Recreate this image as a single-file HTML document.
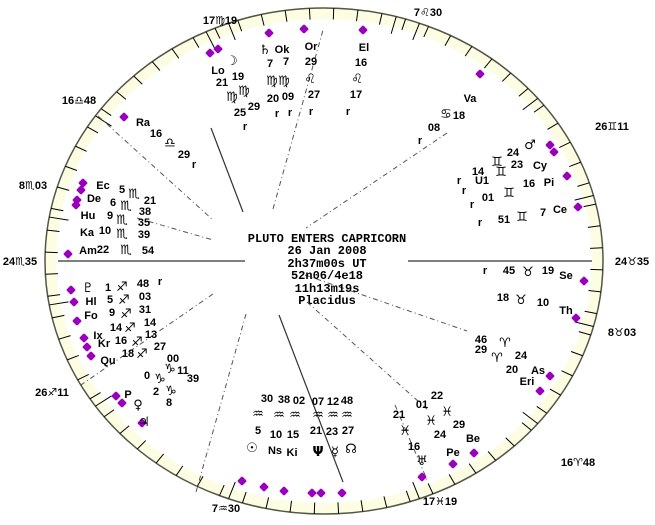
<!DOCTYPE html>
<html><head><meta charset="utf-8"><style>
html,body{margin:0;padding:0;background:#fff;width:655px;height:525px;overflow:hidden}
svg text{font-family:"Liberation Sans","DejaVu Sans",sans-serif;font-size:11px;font-weight:bold;fill:#000;text-anchor:middle}
svg text.c{font-family:"Liberation Mono","DejaVu Sans Mono",monospace;font-size:12px}
svg text.g{font-family:"DejaVu Sans",sans-serif;font-size:13px}
</style></head><body>
<svg id="s" width="655" height="525" viewBox="0 0 655 525" xmlns="http://www.w3.org/2000/svg">
<ellipse cx="324" cy="261" rx="279" ry="253" fill="#fdfde4" stroke="#555544" stroke-width="1.5"/>
<ellipse cx="324" cy="261" rx="268" ry="242" fill="#fff" stroke="none"/>
<g id="ticks" stroke="#000" stroke-width="1"></g>
<g stroke="#333" stroke-width="1.2" fill="none">
<line x1="58" y1="261" x2="245" y2="261"/><line x1="408" y1="261" x2="592" y2="261"/>
<line x1="211" y1="128" x2="243" y2="212"/>
<line x1="279" y1="315" x2="343" y2="482"/>
</g>
<g stroke="#555" stroke-width="1" stroke-dasharray="5,3,1,3" fill="none">
<line x1="273" y1="209" x2="323" y2="30"/>
<line x1="98" y1="116" x2="213" y2="220"/>
<line x1="137" y1="218" x2="213" y2="240"/>
<line x1="447" y1="133" x2="306" y2="228"/>
<line x1="213" y1="294" x2="78" y2="387"/>
<line x1="246" y1="314" x2="196" y2="492"/>
<line x1="305" y1="275" x2="467" y2="331"/>
<line x1="307" y1="302" x2="428" y2="410"/>
<line x1="395" y1="405" x2="428" y2="482"/>
</g>
<g id="dia" fill="#9900bb"></g>
<g id="tx">
<text class="c" x="327" y="242">PLUTO ENTERS CAPRICORN</text>
<text class="c" x="327" y="254">26 Jan 2008</text>
<text class="c" x="327" y="267">2h37m00s UT</text>
<text class="c" x="327" y="279">52n06/4e18</text>
<text class="c" x="327" y="292">11h13m19s</text>
<text class="c" x="327" y="304">Placidus</text>

<text x="220" y="24">17♍19</text><text x="428" y="16">7♌30</text>
<text x="79" y="104">16♎48</text><text x="612" y="130">26♊11</text>
<text x="33" y="189">8♏03</text><text x="20" y="265">24♏35</text>
<text x="632" y="265">24♉35</text><text x="622" y="336">8♉03</text>
<text x="52" y="396">26♐11</text><text x="226" y="512">7♒30</text>
<text x="440" y="505">17♓19</text><text x="578" y="466">16♈48</text>

<text x="265" y="54">♄</text><text x="282" y="53">Ok</text><text x="311" y="50">Or</text><text x="364" y="51">El</text>
<text x="218" y="74">Lo</text><text x="232" y="65">☽</text>
<text x="270" y="67">7</text><text x="286" y="65">7</text><text x="311" y="65">29</text><text x="361" y="66">16</text>
<text x="222" y="86">21</text><text x="238" y="80">19</text>
<text x="272" y="85">♍</text><text x="284" y="85">♍</text><text x="310" y="83">♌</text><text x="357" y="83">♌</text>
<text x="232" y="101">♍</text><text x="244" y="95">♍</text>
<text x="273" y="102">20</text><text x="288" y="100">09</text><text x="314" y="98">27</text><text x="356" y="98">17</text>
<text x="240" y="116">25</text><text x="254" y="110">29</text>
<text x="277" y="117">r</text><text x="290" y="116">r</text><text x="311" y="115">r</text><text x="348" y="115">r</text>
<text x="245" y="130">r</text>
<text x="470" y="102">Va</text><text x="459" y="119">18</text><text x="446" y="118">♋</text><text x="434" y="131">08</text><text x="420" y="144">r</text>
<text x="143" y="126">Ra</text><text x="156" y="137">16</text><text x="170" y="147">♎</text><text x="184" y="158">29</text><text x="194" y="168">r</text>
<text x="513" y="156">24</text><text x="530" y="149">♂</text><text x="497" y="166">♊</text><text x="517" y="168">23</text><text x="540" y="169">Cy</text>
<text x="478" y="175">14</text><text x="501" y="176">♊</text><text x="482" y="184">U1</text><text x="529" y="187">16</text><text x="549" y="186">Pi</text>
<text x="459" y="184">r</text><text x="464" y="194">r</text><text x="488" y="201">01</text><text x="509" y="197">♊</text><text x="472" y="208">r</text>
<text x="504" y="223">51</text><text x="522" y="221">♊</text><text x="543" y="216">7</text><text x="560" y="213">Ce</text><text x="480" y="226">r</text>

<text x="103" y="189">Ec</text><text x="122" y="193">5</text><text x="134" y="198">♏</text><text x="150" y="204">21</text>
<text x="94" y="202">De</text><text x="113" y="206">6</text><text x="126" y="210">♏</text><text x="145" y="215">38</text>
<text x="88" y="219">Hu</text><text x="110" y="219">9</text><text x="122" y="224">♏</text><text x="144" y="226">35</text>
<text x="87" y="236">Ka</text><text x="105" y="234">10</text><text x="122" y="238">♏</text><text x="144" y="238">39</text>
<text x="88" y="254">Am</text><text x="103" y="253">22</text><text x="126" y="254">♏</text><text x="148" y="254">54</text>

<text x="88" y="292">♇</text><text x="108" y="291">1</text><text x="122" y="291">♐</text><text x="143" y="287">48</text><text x="160" y="285">r</text>
<text x="91" y="305">Hl</text><text x="110" y="303">5</text><text x="124" y="304">♐</text><text x="145" y="300">03</text>
<text x="91" y="319">Fo</text><text x="112" y="316">9</text><text x="126" y="318">♐</text><text x="145" y="313">31</text>
<text x="98" y="339">Ix</text><text x="116" y="331">14</text><text x="130" y="332">♐</text><text x="150" y="326">14</text>
<text x="104" y="347">Kr</text><text x="121" y="344">16</text><text x="137" y="346">♐</text><text x="151" y="338">13</text>
<text x="108" y="364">Qu</text><text x="128" y="357">18</text><text x="142" y="358">♐</text><text x="160" y="350">27</text>
<text x="173" y="362">00</text><text x="170" y="373">♑</text><text x="183" y="374">11</text><text x="147" y="379">0</text><text x="160" y="383">♑</text><text x="193" y="382">39</text>
<text x="156" y="395">2</text><text x="171" y="395">♑</text><text x="169" y="406">8</text>
<text x="128" y="398">P</text><text x="138" y="409">♀</text><text x="144" y="426">♃</text>

<text x="267" y="402">30</text><text x="284" y="403">38</text><text x="299" y="404">02</text><text x="318" y="405">07</text><text x="333" y="405">12</text><text x="347" y="404">48</text>
<text x="258" y="418">♒</text><text x="279" y="419">♒</text><text x="295" y="419">♒</text><text x="318" y="419">♒</text><text x="333" y="419">♒</text><text x="347" y="419">♒</text>
<text x="258" y="434">5</text><text x="276" y="438">10</text><text x="293" y="438">15</text><text x="316" y="434">21</text><text x="332" y="435">23</text><text x="348" y="434">27</text>
<text x="252" y="452">☉</text><text x="275" y="454">Ns</text><text x="292" y="456">Ki</text><text x="318" y="456">Ψ</text><text x="335" y="456">☿</text><text x="351" y="453">☊</text>

<text x="437" y="399">22</text><text x="422" y="408">01</text><text x="399" y="418">21</text><text x="447" y="416">♓</text><text x="431" y="425">♓</text><text x="459" y="428">29</text><text x="440" y="438">24</text><text x="405" y="435">♓</text><text x="414" y="450">16</text><text x="422" y="465">♅</text>
<text x="453" y="456">Pe</text><text x="473" y="442">Be</text>

<text x="485" y="274">r</text><text x="509" y="274">45</text><text x="528" y="276">♉</text><text x="548" y="274">19</text><text x="566" y="279">Se</text>
<text x="503" y="301">18</text><text x="521" y="304">♉</text><text x="543" y="306">10</text><text x="566" y="314">Th</text>
<text x="481" y="343">46</text><text x="481" y="353">29</text><text x="505" y="347">♈</text><text x="497" y="362">♈</text><text x="521" y="359">24</text><text x="512" y="373">20</text><text x="538" y="374">As</text><text x="527" y="385">Eri</text>
</g>
</svg>
<script>
var NS="http://www.w3.org/2000/svg",cx=324,cy=261,rx=279,ry=253;
var t=document.getElementById("ticks");
function L(a,i,o){var c=Math.cos(a),s=Math.sin(a);var l=document.createElementNS(NS,"line");
l.setAttribute("x1",cx+rx*o*c);l.setAttribute("y1",cy+ry*o*s);l.setAttribute("x2",cx+rx*i*c);l.setAttribute("y2",cy+ry*i*s);t.appendChild(l);}
for(var d=0;d<360;d+=5){L((d+2)*Math.PI/180,0.955,1.0);}
[-110,-75,-40,-15,15,40,70,110,145,170,190,215,245,290].forEach(function(x){L(x*Math.PI/180,0.93,1.0);});
var dg=document.getElementById("dia");
[[210,53],[218,49],[269,33],[304,29],[363,30],[480,74],[550,145],[554,152],[567,176],[578,207],
[124,117],[83,183],[81,190],[77,200],[76,205],[68,254],
[584,281],[576,318],[550,376],[540,391],[474,453],[453,464],[422,477],
[242,481],[264,487],[284,491],[312,493],[321,493],[342,493],
[71,290],[74,302],[77,321],[84,338],[87,347],[91,356],[116,396],[122,403],[142,423]].forEach(function(p){
var e=document.createElementNS(NS,"rect");e.setAttribute("x",p[0]-3.5);e.setAttribute("y",p[1]-3.5);e.setAttribute("width",7);e.setAttribute("height",7);e.setAttribute("rx",1.5);
e.setAttribute("transform","rotate(45 "+p[0]+" "+p[1]+")");dg.appendChild(e);});
var ts=document.querySelectorAll("#tx text");
for(var i=0;i<ts.length;i++){var s=ts[i].textContent;if(s.length<=2&&/[\u2600-\u26ff\u263d\u03a8]/.test(s))ts[i].setAttribute("class","g");}
</script>
</body></html>
